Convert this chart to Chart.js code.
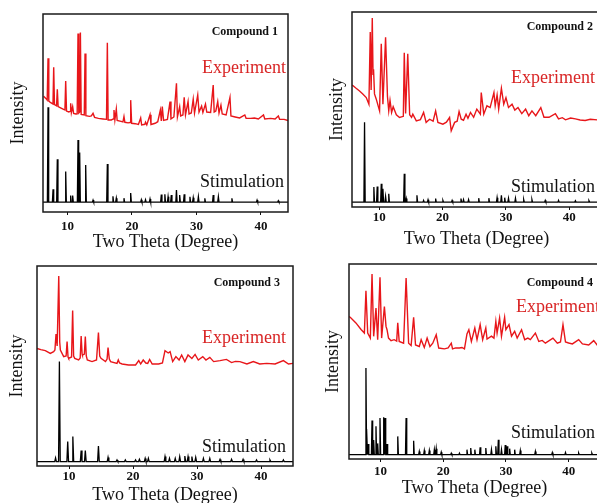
<!DOCTYPE html>
<html>
<head>
<meta charset="utf-8">
<script src="https://cdn.jsdelivr.net/npm/chart.js@4.4.0/dist/chart.umd.min.js"></script>
<style>
  html, body { margin: 0; padding: 0; background: #fff; overflow: hidden; width: 597px; height: 503px; }
  canvas { position: absolute; }
</style>
</head>
<body>
<canvas id="p1" width="300" height="253" style="left:0;top:0"></canvas>
<canvas id="p2" width="310" height="250" style="left:300px;top:0"></canvas>
<canvas id="p3" width="300" height="256" style="left:0;top:250px"></canvas>
<canvas id="p4" width="310" height="249" style="left:300px;top:250px"></canvas>
<script>
// tick labels shared by all four panels
const tickVals = [10, 20, 30, 40];

// Compound 1 : measured pattern [2theta, intensity] and simulated sticks [2theta, height]
const exp1 = [[6.3,58.5],[6.6,57.5],[6.85,56.5],[6.98,77.6],[7.1,56],[7.4,55.2],[7.75,54.5],[7.86,73.1],[7.98,54.2],
  [8.3,53.6],[8.42,62],[8.55,53.2],[9.0,52.5],[9.4,51.8],[9.6,51.5],[9.72,66.2],[9.85,51],[10.2,50.5],[10.4,50.8],
  [10.49,54.9],[10.6,50.2],[10.8,53.2],[10.95,49.8],[11.3,49.5],[11.5,49.6],[11.63,90.2],[11.75,50],[11.9,50.5],
  [12.0,90.6],[12.12,49.3],[12.6,49],[12.72,80],[12.85,48.6],[13.4,48.3],[13.7,48.5],[13.96,49.8],[14.2,47.8],
  [14.8,47.3],[15.5,47],[16.05,46.8],[16.18,85.5],[16.3,46.5],[16.8,46.5],[17.1,47],[17.21,51.5],[17.35,46.5],
  [17.57,52],[17.7,46.3],[18.3,45.8],[18.6,45.5],[18.76,48.2],[18.9,45.3],[19.4,45],[19.7,45.2],[19.8,56.5],
  [19.95,44.8],[20.5,44.6],[21.0,44.2],[21.35,47.5],[21.5,44],[22.0,44.3],[22.1,45.4],[22.3,44],[22.8,49.1],
  [22.95,44.2],[23.6,44.8],[24.0,45.6],[24.4,51.5],[24.55,46],[24.7,53.2],[24.9,46.3],[25.5,46.8],[25.9,55.8],
  [26.05,47],[26.5,48],[26.9,65],[27.05,48],[27.4,53.2],[27.55,48.5],[27.9,49],[28.1,57.9],[28.3,49],[28.7,55.8],
  [28.85,49.5],[29.2,50],[29.5,57],[29.7,50],[30.2,59.1],[30.4,50.5],[30.8,53.5],[31.0,50.3],[31.4,54.5],[31.6,50.5],
  [32.2,50.3],[32.6,64.1],[32.75,50.5],[33.0,51],[33.3,55.8],[33.5,50],[33.8,54],[34.0,49.5],[34.6,49],[35.2,57.9],
  [35.35,48.5],[36.0,48],[36.7,47.5],[37.5,49],[37.7,47.3],[38.4,47.3],[39.0,47.5],[39.6,47],[40.4,49],[40.6,47],
  [41.5,47.3],[42.2,47],[42.7,48.5],[42.9,46.8],[43.6,46.8],[44.2,46.2]];
const sim1 = [[6.98,52.9],[7.76,11.5],[8.42,26.6],[9.72,20.4],[10.49,8.3],[10.8,8.3],[11.63,36.4],[11.89,30],
  [12.82,23.7],[13.96,6],[16.18,24.2],[17.05,7.9],[17.57,7],[18.76,7],[19.8,9.6],[21.45,6.2],[22.1,6.2],[22.8,6.6],
  [24.55,8.8],[25.1,9],[25.6,7.7],[26.1,8.6],[26.9,11.1],[27.4,8.6],[28.1,9],[28.99,7.7],[29.5,7.2],[30.3,7.7],
  [31.3,6.9],[32.6,8.6],[33.4,7.7],[35.5,6.9],[39.4,6],[42.7,5.7]];

// Compound 2
const exp2 = [[5.73,62.6],[6.3,61],[6.89,59.5],[7.4,58],[7.95,56.1],[8.37,52.7],[8.58,89.8],[8.72,60],[8.9,96.9],
  [9.02,68],[9.1,70.6],[9.25,58],[9.53,55.3],[10.05,49.3],[10.32,83.7],[10.58,52.7],[11.0,87.1],[11.3,56.5],
  [11.5,49.3],[11.7,54.7],[11.95,48.5],[12.2,51.4],[12.7,47.3],[13.2,45.9],[13.8,46.5],[13.95,79.1],[14.16,47.9],
  [14.5,78.6],[14.8,47.3],[15.1,46],[15.3,47.6],[15.85,44.2],[16.5,44.8],[17.0,48.5],[17.4,43.4],[17.95,45],
  [18.5,44],[18.9,49.3],[19.26,43.4],[20.05,42.5],[20.6,43.5],[21.1,45.9],[21.36,39.1],[21.9,43.4],[22.3,44],
  [22.6,49],[22.94,45],[23.3,44.5],[23.7,47.6],[24.0,45.5],[24.4,48.5],[24.9,46],[25.4,50.2],[25.96,47.6],
  [26.1,58.7],[26.5,47.6],[27.0,51.9],[27.5,51],[28.1,58.7],[28.3,51.9],[28.6,57.5],[28.85,50.2],[29.28,60.9],
  [29.65,52.7],[30.0,56.1],[30.4,51],[30.96,52.7],[31.4,49.7],[31.9,51],[32.5,47.9],[33.1,50.2],[33.6,46.8],
  [34.1,49.3],[34.7,46.8],[35.5,51],[36.0,46],[36.8,46],[37.8,47.9],[38.3,45.2],[38.9,45.8],[39.4,44.7],
  [40.2,45.6],[40.96,45.2],[41.7,44.6],[42.5,44.4],[43.3,45],[44.4,44.7],[45.0,45]];
const sim2 = [[7.68,43.4],[9.15,10.2],[9.68,10.5],[10.32,11.9],[10.58,9.4],[11.0,5.4],[11.5,6.8],[13.95,17],
  [14.26,4.3],[15.95,6],[17.0,3.4],[17.7,3.7],[18.9,4.3],[20.05,3.4],[21.5,3.4],[22.9,4.3],[23.3,3.8],[24.1,3.8],
  [25.7,4.5],[27.3,4.5],[28.6,4.8],[29.28,6],[29.8,4.8],[30.4,4.5],[31.5,4.5],[32.8,3.8],[34.1,3.8],[36.2,3.4],
  [38.3,3.4],[40.96,3.2],[43.1,3.2]];

// Compound 3
const exp3 = [[5.0,58.8],[5.6,58.2],[6.3,57.7],[7.08,56.3],[7.6,57.2],[7.8,58],[7.97,66],[8.15,60],[8.4,95],
  [8.55,62],[8.65,58],[9.17,54.7],[9.55,55],[9.7,62.2],[9.85,54.5],[9.95,53.8],[10.4,54.5],[10.57,77.7],[10.72,55],
  [10.9,53.8],[11.5,53],[11.75,54],[11.9,65],[12.05,56],[12.1,55.5],[12.4,56],[12.55,64.7],[12.7,55],[12.86,53],
  [13.6,52.2],[14.3,53],[14.6,66.7],[14.8,55],[15.0,53.8],[15.7,52.2],[15.95,53.5],[16.1,59.2],[16.3,53.5],
  [16.5,52.2],[17.5,51.3],[17.7,53],[17.9,51.5],[18.3,51],[19.3,50.5],[20.4,50.5],[20.9,52.7],[21.2,51],[21.6,53],
  [22.0,51.5],[22.3,51.3],[22.6,53.3],[23.0,51],[24.0,51],[24.6,51.5],[25.0,57.7],[25.5,56.5],[25.8,57.2],
  [26.2,52.2],[26.7,54.7],[27.2,53],[27.6,55.5],[28.1,52.2],[28.6,55.5],[29.2,53.8],[29.7,55.8],[30.2,53],
  [30.9,54.7],[31.4,53],[32.0,54.3],[32.6,52.2],[33.6,52.7],[34.6,53.3],[35.4,51.7],[36.0,52.3],[36.7,52.2],
  [37.8,51],[38.8,52.2],[39.8,51],[40.9,51.3],[42.2,51],[43.5,52.7],[44.3,51],[45.0,51.3]];
const sim3 = [[7.9,4],[8.5,52.2],[9.8,12.2],[10.6,14.7],[11.9,7.7],[12.55,7.7],[14.6,10],[16.1,4.3],[17.5,3],
  [18.8,3],[20.4,3],[21.0,3.3],[21.9,3.8],[22.4,3.8],[25.0,4.7],[25.7,3.8],[26.6,3.8],[27.3,4.7],[28.1,5],
  [28.6,4.7],[29.2,4.7],[29.8,4.3],[31.0,3.8],[32.0,3.8],[33.6,3.3],[35.4,3.3],[37.2,3.3],[39.3,3],[41.4,3],[43.5,3]];

// Compound 4
const exp4 = [[5.0,73],[5.2,72.7],[6.1,69.8],[6.92,66.4],[7.45,64.6],[7.7,86.3],[7.98,64.6],[8.4,62],[8.67,94.9],
  [8.93,62.9],[9.3,77.4],[9.57,61.2],[9.94,93.2],[10.2,62],[10.64,78.2],[10.9,68],[11.06,66.3],[11.3,62],
  [11.7,60.7],[12.2,61.2],[12.6,60.5],[12.77,69.8],[13.0,60.3],[13.7,59.4],[14.1,92.8],[14.5,59.4],[14.9,58.2],
  [15.3,72.7],[15.6,58.5],[16.2,57.7],[16.5,61.2],[17.0,57.2],[17.45,62],[17.9,57.7],[18.35,59.4],[18.9,63.7],
  [19.3,56.9],[20.2,56.5],[20.8,57],[21.3,59.4],[21.5,56.5],[22.0,57],[22.6,56.9],[23.0,57.2],[23.4,56.5],
  [23.8,64.1],[24.1,66.3],[24.5,60.3],[25.05,67.2],[25.4,61.2],[25.9,68.9],[26.3,61.2],[26.8,67.2],[27.0,61.5],
  [27.7,63],[28.1,62],[28.4,70.6],[28.6,64.6],[29.0,72.3],[29.3,63],[29.8,72.7],[30.0,66.3],[30.5,68.9],[30.9,63],
  [31.4,65.5],[31.8,62],[32.5,66.3],[33.0,61.2],[33.5,62],[33.9,61.2],[34.7,64.6],[35.25,60.3],[35.8,60.8],
  [36.3,59.4],[37.5,62],[38.2,59.4],[38.7,60],[39.1,68.9],[39.5,60],[40.0,59.5],[40.6,59],[41.6,61.2],[42.2,59],
  [43.2,58.5],[44.0,60.7],[44.6,58.2],[45.0,58.5]];
const sim4 = [[7.7,46.7],[7.85,15.4],[8.06,7.7],[8.67,19.8],[8.93,9.7],[9.3,16.8],[9.57,8],[9.94,21],[10.53,21.4],
  [10.75,21],[11.06,7.7],[12.77,11.6],[14.1,21],[15.3,9.3],[16.2,3.9],[17.0,4.3],[17.8,4.3],[18.6,4.8],[18.9,5.3],
  [19.7,3.5],[21.3,3],[22.6,3],[23.8,4.8],[24.4,5.6],[25.05,4.8],[25.9,6],[26.8,5.6],[27.7,4.8],[28.4,6.5],
  [28.8,9.9],[29.3,4.8],[29.9,7.2],[30.2,6.5],[30.6,5.3],[31.4,4.8],[32.3,4.3],[34.7,3.9],[37.4,3.3],[39.5,3.3],
  [41.6,3],[43.7,3]];

const RED = '#e8161a';
const SERIF = '"Liberation Serif", "Times New Roman", serif';

// stick pattern: each reflection drawn as a thin spike on the baseline
function sticks(peaks, base, w, xmin, xmax) {
  const pts = [{ x: xmin, y: base }];
  peaks.forEach(([x, h]) => {
    pts.push({ x: x - w, y: base }, { x: x, y: h }, { x: x + w, y: base });
  });
  pts.push({ x: xmax, y: base });
  return pts;
}

const frame = {
  id: 'frame',
  afterDraw(chart) {
    const { ctx, chartArea: a } = chart;
    ctx.save();
    ctx.strokeStyle = '#1a1a1a';
    ctx.lineWidth = 1.5;
    ctx.strokeRect(a.left, a.top, a.right - a.left, a.bottom - a.top);
    ctx.restore();
  }
};

const panelText = {
  id: 'panelText',
  afterDraw(chart, args, o) {
    const { ctx, chartArea: a } = chart;
    ctx.save();
    ctx.textAlign = 'right';
    ctx.textBaseline = 'middle';
    ctx.font = 'bold 12px ' + SERIF;
    ctx.fillStyle = '#111';
    ctx.fillText(o.name, a.right - o.name_at[0], a.top + o.name_at[1]);
    ctx.font = '18px ' + SERIF;
    ctx.fillStyle = '#d92525';
    ctx.fillText('Experiment', a.right - o.exp_at[0], a.top + o.exp_at[1]);
    ctx.fillStyle = '#111';
    ctx.fillText('Stimulation', a.right - o.sim_at[0], a.top + o.sim_at[1]);
    ctx.restore();
  }
};

function drawPanel(id, p) {
  new Chart(document.getElementById(id), {
    type: 'line',
    data: {
      datasets: [
        { data: p.exp.map(([x, y]) => ({ x, y })), borderColor: RED, borderWidth: 1.4, pointRadius: 0 },
        { data: sticks(p.sim, p.base, p.w, p.min, p.max), borderColor: '#000', borderWidth: 1.3, pointRadius: 0 }
      ]
    },
    options: {
      responsive: false,
      animation: false,
      layout: { padding: { left: p.padL, top: p.padT, right: p.padR, bottom: 0 } },
      plugins: {
        legend: { display: false },
        tooltip: { enabled: false },
        panelText: { name: p.name, name_at: p.nameAt, exp_at: p.expAt, sim_at: p.simAt }
      },
      scales: {
        x: {
          type: 'linear',
          min: p.min,
          max: p.max,
          afterBuildTicks: (s) => { s.ticks = tickVals.map((v) => ({ value: v })); },
          afterFit: (s) => { s.height = p.xH; },
          grid: { display: true, drawOnChartArea: false, drawTicks: true, tickLength: 3, color: '#111' },
          border: { display: false },
          ticks: { padding: p.tickPad, color: '#111', font: { family: SERIF, size: 13, weight: 'bold' } },
          title: { display: true, text: 'Two Theta (Degree)', color: '#111', padding: 0, font: { family: SERIF, size: 18 } }
        },
        y: {
          min: 0,
          max: 100,
          afterFit: (s) => { s.width = p.yW; },
          grid: { display: false },
          border: { display: false },
          ticks: { display: false },
          title: { display: true, text: 'Intensity', color: '#111', padding: 0, font: { family: SERIF, size: 18 } }
        }
      }
    },
    plugins: [frame, panelText]
  });
}

drawPanel('p1', { exp: exp1, sim: sim1, base: 5, w: 0.1, min: 6.2, max: 44.2, name: 'Compound 1',
  padL: 7, padT: 14, padR: 12, yW: 36, xH: 41, tickPad: 4, nameAt: [10, 18], expAt: [2, 54], simAt: [4, 168] });
drawPanel('p2', { exp: exp2, sim: sim2, base: 2.5, w: 0.1, min: 5.7, max: 45, name: 'Compound 2',
  padL: 26, padT: 12, padR: 9, yW: 26, xH: 43, tickPad: 0, nameAt: [8, 15], expAt: [6, 66], simAt: [6, 175] });
drawPanel('p3', { exp: exp3, sim: sim3, base: 2.2, w: 0.13, min: 5, max: 45, name: 'Compound 3',
  padL: 6, padT: 16, padR: 7, yW: 31, xH: 40, tickPad: 0, nameAt: [13, 17], expAt: [7, 72], simAt: [7, 181] });
drawPanel('p4', { exp: exp4, sim: sim4, base: 2.2, w: 0.1, min: 5, max: 45, name: 'Compound 4',
  padL: 22, padT: 14, padR: 10, yW: 27, xH: 40, tickPad: 2, nameAt: [7, 19], expAt: [0, 43], simAt: [5, 169] });
</script>
</body>
</html>
